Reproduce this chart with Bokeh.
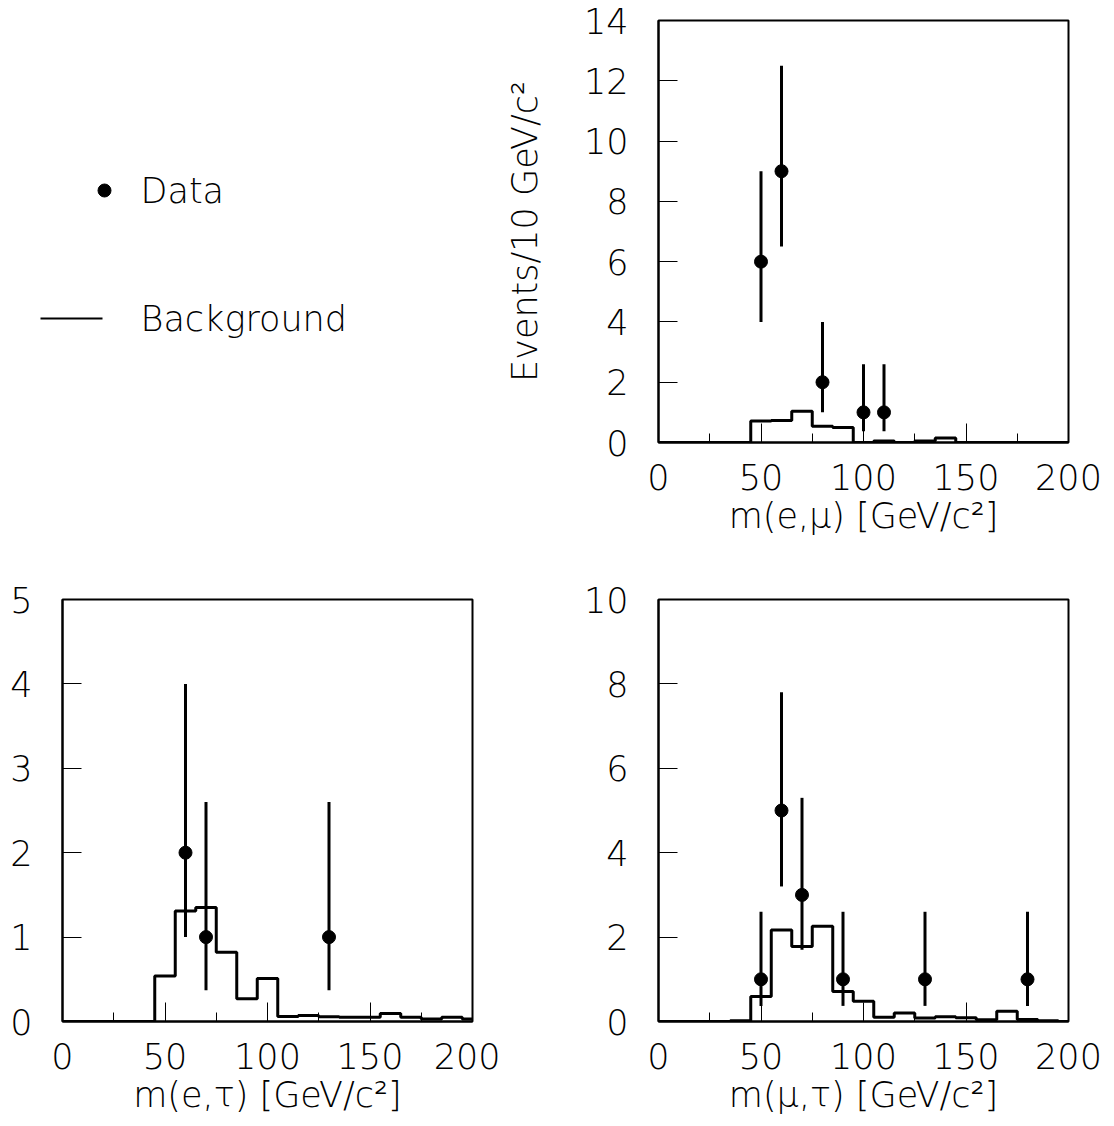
from bokeh.plotting import figure
from bokeh.models import Range1d, FixedTicker
from bokeh.core.properties import value
from bokeh.layouts import column, row
from bokeh.embed import file_html
from bokeh.resources import INLINE

# ---------------- data ----------------
bin_centers = [0, 10, 20, 30, 40, 50, 60, 70, 80, 90, 100,
               110, 120, 130, 140, 150, 160, 170, 180, 190, 200]

em_bkg = [0, 0, 0, 0, 0, 0.71, 0.73, 1.04, 0.54, 0.50, 0,
          0.05, 0, 0.05, 0.15, 0, 0, 0, 0, 0, 0]
et_bkg = [0, 0, 0, 0, 0, 0.54, 1.31, 1.35, 0.82, 0.27, 0.51,
          0.06, 0.07, 0.055, 0.05, 0.05, 0.095, 0.05, 0.03, 0.05, 0.03]
mt_bkg = [0, 0, 0, 0, 0.02, 0.59, 2.17, 1.78, 2.26, 0.71, 0.48,
          0.10, 0.20, 0.08, 0.11, 0.09, 0.04, 0.24, 0.05, 0.02, 0]

em_x = [50, 60, 80, 100, 110]
em_n = [6, 9, 2, 1, 1]
em_lo = [4.0, 6.5, 1.0, 0.37, 0.37]
em_hi = [9.0, 12.5, 4.0, 2.6, 2.6]

et_x = [60, 70, 130]
et_n = [2, 1, 1]
et_lo = [1.0, 0.37, 0.37]
et_hi = [4.0, 2.6, 2.6]

mt_x = [50, 60, 70, 90, 130, 180]
mt_n = [1, 5, 3, 1, 1, 1]
mt_lo = [0.37, 3.2, 1.7, 0.37, 0.37, 0.37]
mt_hi = [2.6, 7.8, 5.3, 2.6, 2.6, 2.6]

x_ticks = [0, 50, 100, 150, 200]
x_minor = [25, 75, 125, 175]
em_yticks = [0, 2, 4, 6, 8, 10, 12, 14]
et_yticks = [0, 1, 2, 3, 4, 5]
mt_yticks = [0, 2, 4, 6, 8, 10]

legend_labels = ["Data", "Background"]

FONT = "'DejaVu Sans Light', 'Lato Light', Lato"
FS = "35px"


def make_panel(width, height, bl, br, bt, bb, ymax, yticks, xlabel, ylabel,
               bkg, dx, dn, dlo, dhi):
    p = figure(width=width, height=height, output_backend="svg",
               toolbar_location=None, x_range=Range1d(0, 200),
               y_range=Range1d(0, ymax),
               min_border_left=bl, min_border_right=br,
               min_border_top=bt, min_border_bottom=bb)
    p.grid.visible = False
    p.background_fill_color = "white"
    p.border_fill_color = "white"
    p.outline_line_color = "black"
    p.outline_line_width = 2
    for ax in (p.xaxis[0], p.yaxis[0]):
        ax.axis_line_width = 2
        ax.axis_line_color = "black"
        ax.major_tick_out = 0
        ax.major_tick_in = 19
        ax.major_tick_line_width = 1
        ax.minor_tick_out = 0
        ax.minor_tick_in = 9
        ax.minor_tick_line_width = 1
        ax.major_label_text_font = FONT
        ax.major_label_text_font_size = FS
        ax.major_label_text_color = "black"
        ax.axis_label_text_font = FONT
        ax.axis_label_text_font_size = FS
        ax.axis_label_text_font_style = "normal"
        ax.axis_label_text_color = "black"
    p.xaxis[0].ticker = FixedTicker(ticks=x_ticks, minor_ticks=x_minor)
    p.yaxis[0].ticker = FixedTicker(ticks=yticks)
    p.yaxis[0].minor_tick_line_color = None
    p.xaxis[0].major_label_standoff = 21
    p.yaxis[0].major_label_standoff = 30
    p.xaxis[0].axis_label = xlabel
    p.xaxis[0].axis_label_standoff = 3
    if ylabel:
        p.yaxis[0].axis_label = ylabel
        p.yaxis[0].axis_label_standoff = 36

    p.step(x=bin_centers, y=bkg, mode="center", line_color="black",
           line_width=3)
    p.segment(x0=dx, y0=dlo, x1=dx, y1=dhi, line_color="black",
              line_width=3)
    p.scatter(x=dx, y=dn, size=13, color="black")
    return p


tr = make_panel(608, 570, 158, 40, 20, 128, 14, em_yticks,
                "m(e,\u03bc) [GeV/c\u00b2]", "Events/10 GeV/c\u00b2",
                em_bkg, em_x, em_n, em_lo, em_hi)
bl = make_panel(500, 555, 62, 28, 29, 104, 5, et_yticks,
                "m(e,\u03c4) [GeV/c\u00b2]", None,
                et_bkg, et_x, et_n, et_lo, et_hi)
br = make_panel(608, 555, 158, 40, 29, 104, 10, mt_yticks,
                "m(\u03bc,\u03c4) [GeV/c\u00b2]", None,
                mt_bkg, mt_x, mt_n, mt_lo, mt_hi)

# legend panel: its frame is aligned with the top-right frame (rows 20..442),
# so the y range is expressed in page pixels, downward
leg = figure(width=500, height=570, output_backend="svg",
             toolbar_location=None, x_axis_type=None, y_axis_type=None,
             x_range=Range1d(0, 500), y_range=Range1d(442, 20),
             min_border_left=0, min_border_right=0,
             min_border_top=20, min_border_bottom=128)
leg.grid.visible = False
leg.outline_line_color = None
leg.background_fill_color = "white"
leg.border_fill_color = "white"
leg.scatter(x=[104], y=[190], size=13, color="black")
leg.segment(x0=[40], y0=[318], x1=[102], y1=[318], line_color="black",
            line_width=2)
leg.text(x=[140, 140], y=[190, 318], text=legend_labels,
         text_font=value(FONT), text_font_size=FS, text_color="black",
         text_align="left", text_baseline="middle")

layout = column(row(leg, tr), row(bl, br))
open("out.html", "w").write(file_html(layout, INLINE))
